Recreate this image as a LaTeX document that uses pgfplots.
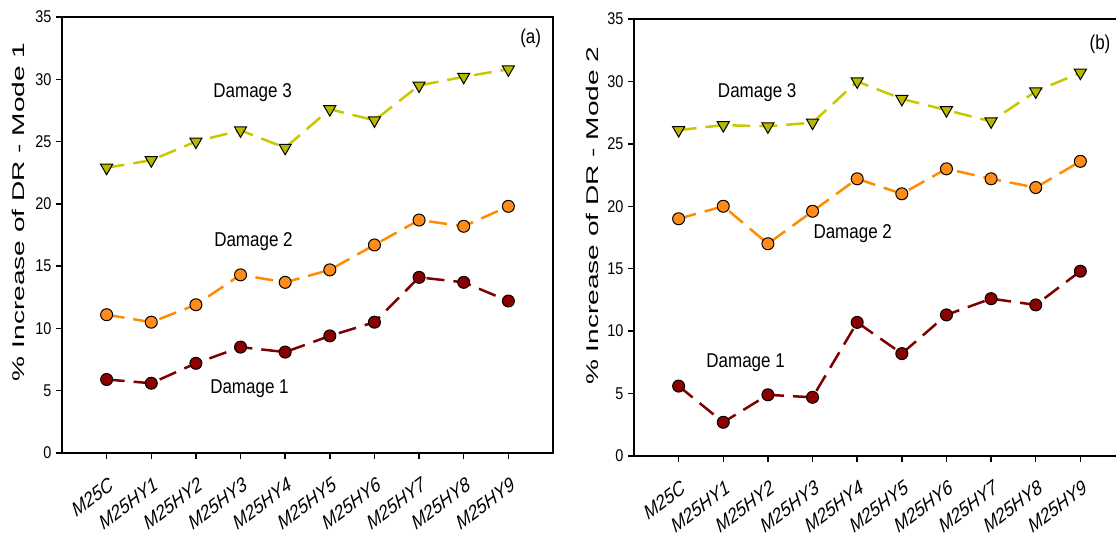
\documentclass[border=0pt]{standalone}
\usepackage{pgfplots}
\pgfplotsset{compat=1.18}
\usepackage{graphicx}
\usepackage{fontspec}
\setmainfont{Liberation Sans}
\newfontfamily\narrowfont[FakeStretch=0.85]{Liberation Sans}
\newfontfamily\widefont[FakeStretch=1.65]{Liberation Sans}
\newcommand\xl[1]{\scalebox{1}[1.22]{\rotatebox{32}{\itshape\fontsize{16.8}{18}\selectfont #1}}}
\definecolor{dA}{HTML}{800000}
\definecolor{dAf}{HTML}{8B0000}
\definecolor{dB}{HTML}{FF8C00}
\definecolor{dBf}{HTML}{FF8C1A}
\definecolor{dC}{HTML}{C8C800}
\definecolor{dCf}{HTML}{B8B800}
\pgfplotstableread{
x d1 d2 d3
0 5.9 11.1 22.9
1 5.6 10.5 23.5
2 7.2 11.9 25.0
3 8.5 14.3 25.9
4 8.1 13.7 24.5
5 9.4 14.7 27.6
6 10.5 16.7 26.7
7 14.1 18.7 29.5
8 13.7 18.2 30.2
9 12.2 19.8 30.8
}\tableA
\pgfplotstableread{
x d1 d2 d3
0 5.6 19.0 26.1
1 2.7 20.0 26.5
2 4.9 17.0 26.4
3 4.7 19.6 26.7
4 10.7 22.2 30.0
5 8.2 21.0 28.6
6 11.3 23.0 27.7
7 12.6 22.2 26.8
8 12.1 21.5 29.2
9 14.8 23.6 30.7
}\tableB
\pgfplotsset{
  panel/.style={
    scale only axis, width=491pt,
    xmin=-1, xmax=10, ymin=0, ymax=35,
    xtick={0,...,9}, ytick={0,5,...,35},
    xticklabels={\xl{M25C},\xl{M25HY1},\xl{M25HY2},\xl{M25HY3},\xl{M25HY4},\xl{M25HY5},\xl{M25HY6},\xl{M25HY7},\xl{M25HY8},\xl{M25HY9}},
    xtick pos=lower, ytick pos=left, tick align=outside,
    major tick length=6pt,
    axis line style={line width=2pt}, every tick/.style={line width=1.5pt, black},
    /pgf/number format/assume math mode=true,
    yticklabel style={font=\narrowfont\fontsize{17}{19}\selectfont, xshift=-1pt},
    xticklabel style={anchor=north east, inner sep=0pt, yshift=-17pt, xshift=8pt},
    clip=false,
  },
  s1/.style={color=dA, line width=2.5pt, dash pattern=on 18pt off 9pt, mark=*, mark size=6pt, mark options={solid, fill=dAf, draw=black, line width=1pt}},
  s2/.style={color=dB, line width=2.5pt, dash pattern=on 18pt off 9pt, mark=*, mark size=6pt, mark options={solid, fill=dBf, draw=black, line width=1pt}},
  s3/.style={color=dC, line width=2.5pt, dash pattern=on 18pt off 9pt, mark=triangle*, mark size=7pt, mark options={solid, rotate=180, fill=dCf, draw=black, line width=1pt}},
}
\tikzset{lab/.style={font=\narrowfont\fontsize{20}{22}\selectfont, inner sep=0pt}}
\begin{document}
\begin{tikzpicture}
\path[use as bounding box] (0,0) rectangle (1116pt,534pt);
\begin{axis}[panel, at={(62pt,81pt)}, anchor=south west, height=436pt,
  ylabel={\widefont\fontsize{17}{19}\selectfont \% Increase of DR - Mode 1},
  every axis y label/.style={at={(axis description cs:-0.0896,0.553)}, anchor=center, rotate=90}]
\addplot[s3] table[x=x,y=d3] {\tableA};
\addplot[s2] table[x=x,y=d2] {\tableA};
\addplot[s1] table[x=x,y=d1] {\tableA};
\node[lab] at (axis cs:3.27,28.9) {Damage 3};
\node[lab] at (axis cs:3.29,17.0) {Damage 2};
\node[lab] at (axis cs:3.2,5.2) {Damage 1};
\node[lab] at (axis cs:9.5,33.3) {(a)};
\end{axis}
\begin{axis}[panel, at={(634pt,78pt)}, anchor=south west, height=437pt,
  ylabel={\widefont\fontsize{17}{19}\selectfont \% Increase of DR - Mode 2},
  every axis y label/.style={at={(axis description cs:-0.0855,0.55)}, anchor=center, rotate=90}]
\addplot[s3] table[x=x,y=d3] {\tableB};
\addplot[s2] table[x=x,y=d2] {\tableB};
\addplot[s1] table[x=x,y=d1] {\tableB};
\node[lab] at (axis cs:1.76,29.1) {Damage 3};
\node[lab] at (axis cs:3.9,17.85) {Damage 2};
\node[lab] at (axis cs:1.5,7.5) {Damage 1};
\node[lab] at (axis cs:9.44,33.0) {(b)};
\end{axis}
\end{tikzpicture}
\end{document}
